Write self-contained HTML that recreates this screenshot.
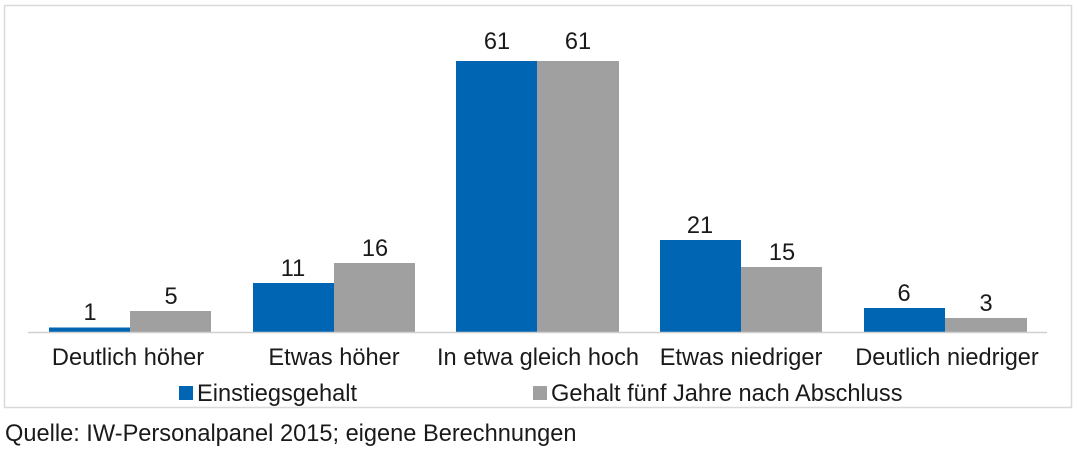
<!DOCTYPE html>
<html><head><meta charset="utf-8"><style>
body{margin:0;background:#fff;width:1077px;height:459px;overflow:hidden;font-family:"Liberation Sans",sans-serif;}
</style></head><body>
<svg width="1077" height="459" xmlns="http://www.w3.org/2000/svg" font-family="Liberation Sans, sans-serif" fill="#1a1a1a">
<rect x="4.5" y="5.5" width="1067" height="402" fill="none" stroke="#d9d9d9" stroke-width="1.5"/>
<g>
<rect x="49" y="327.5" width="81" height="4.5" fill="#0066b3"/>
<rect x="130" y="311" width="81" height="21" fill="#a0a0a0"/>
<rect x="253" y="283" width="81" height="49" fill="#0066b3"/>
<rect x="334" y="263" width="81" height="69" fill="#a0a0a0"/>
<rect x="456" y="61" width="81" height="271" fill="#0066b3"/>
<rect x="537" y="61" width="82" height="271" fill="#a0a0a0"/>
<rect x="660" y="240" width="81" height="92" fill="#0066b3"/>
<rect x="741" y="267" width="81" height="65" fill="#a0a0a0"/>
<rect x="864" y="308" width="81" height="24" fill="#0066b3"/>
<rect x="945" y="318" width="82" height="14" fill="#a0a0a0"/>
</g>
<line x1="28" y1="332.5" x2="1047" y2="332.5" stroke="#d0d0d0" stroke-width="1.5"/>
<g font-size="23.6" text-anchor="middle">
<text x="90" y="320">1</text><text x="171" y="304">5</text>
<text x="293" y="276">11</text><text x="375" y="256">16</text>
<text x="497" y="49">61</text><text x="578" y="49">61</text>
<text x="700" y="233">21</text><text x="782" y="260">15</text>
<text x="904" y="301">6</text><text x="986" y="311">3</text>
</g>
<g font-size="23.6" text-anchor="middle">
<text x="128" y="365">Deutlich höher</text>
<text x="334" y="365">Etwas höher</text>
<text x="538" y="365">In etwa gleich hoch</text>
<text x="741" y="365">Etwas niedriger</text>
<text x="947" y="365">Deutlich niedriger</text>
</g>
<rect x="179" y="386" width="14" height="14" fill="#0066b3"/>
<text x="197" y="401" font-size="23.6">Einstiegsgehalt</text>
<rect x="533" y="386" width="14" height="14" fill="#a0a0a0"/>
<text x="551" y="401" font-size="23.6">Gehalt fünf Jahre nach Abschluss</text>
<text x="5" y="441" font-size="23.6">Quelle: IW-Personalpanel 2015; eigene Berechnungen</text>
</svg>
</body></html>
